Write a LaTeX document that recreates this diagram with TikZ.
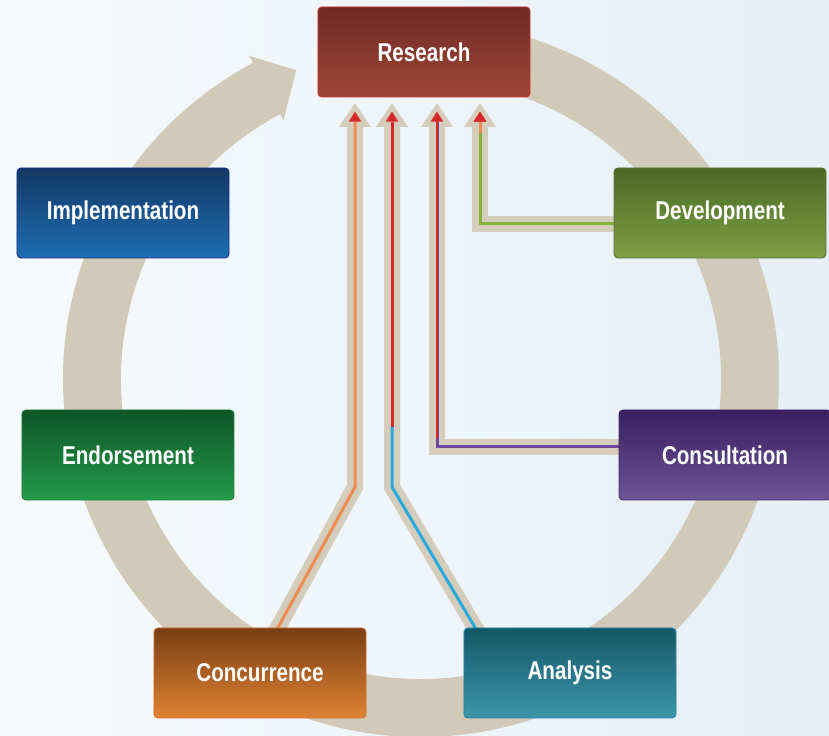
\documentclass[tikz,border=0pt]{standalone}
\usepackage{fontspec}
\setmainfont{Liberation Sans}[FakeStretch=0.8]
\usetikzlibrary{arrows.meta,backgrounds}

\definecolor{bgl}{RGB}{247,250,252}
\definecolor{bgr}{RGB}{230,239,247}
\definecolor{ringc}{RGB}{209,202,184}
\definecolor{bandc}{RGB}{212,205,188}
\definecolor{tipred}{RGB}{214,40,40}
\definecolor{lnorange}{RGB}{238,140,80}
\definecolor{lnblue}{RGB}{40,170,220}
\definecolor{lnpurple}{RGB}{110,70,160}
\definecolor{lngreen}{RGB}{130,180,60}

\tikzset{
  stage/.style={rectangle, rounded corners=0.12cm, minimum width=6.36cm,
    minimum height=2.7cm, text=white, line width=0.8pt,
    font=\fontsize{22}{26}\selectfont\bfseries},
  band/.style={draw=bandc, line width=0.48cm,
    -{Triangle[length=0.72cm, width=0.96cm, line width=0pt]}},
  core/.style={line width=0.09cm, shorten >=0.26cm,
    -{Triangle[length=0.3cm, width=0.38cm, line width=0pt, color=#1]}}
}

\begin{document}
\begin{tikzpicture}[x=0.03cm, y=0.03cm]
\useasboundingbox (0,0) rectangle (829,736);

\node (res) at (424,684) [stage, top color={rgb,255:red,110;green,42;blue,34}, bottom color={rgb,255:red,160;green,70;blue,55}, draw={rgb,255:red,200;green,50;blue,40}] {Research};
\node (imp) at (123,523) [stage, top color={rgb,255:red,18;green,56;blue,100}, bottom color={rgb,255:red,30;green,110;blue,180}, draw={rgb,255:red,30;green,50;blue,140}] {Implementation};
\node (dev) at (720,523) [stage, top color={rgb,255:red,74;green,105;blue,36}, bottom color={rgb,255:red,125;green,160;blue,70}, draw={rgb,255:red,90;green,120;blue,50}] {Development};
\node (end) at (128,281) [stage, top color={rgb,255:red,14;green,85;blue,40}, bottom color={rgb,255:red,35;green,155;blue,75}, draw={rgb,255:red,30;green,120;blue,60}] {Endorsement};
\node (con) at (725,281) [stage, top color={rgb,255:red,58;green,30;blue,95}, bottom color={rgb,255:red,110;green,85;blue,150}, draw={rgb,255:red,70;green,40;blue,110}] {Consultation};
\node (cnc) at (260,63) [stage, top color={rgb,255:red,120;green,62;blue,20}, bottom color={rgb,255:red,225;green,130;blue,50}, draw={rgb,255:red,210;green,110;blue,40}] {Concurrence};
\node (ana) at (570,63) [stage, top color={rgb,255:red,20;green,88;blue,102}, bottom color={rgb,255:red,60;green,150;blue,170}, draw={rgb,255:red,40;green,130;blue,170}] {Analysis};

% arrow ends under Research and bends
\coordinate (t1) at (355,633);
\coordinate (t2) at (392,633);
\coordinate (t3) at (437,633);
\coordinate (t4) at (480,633);
\coordinate (k1) at (355,249);
\coordinate (k2) at (392,249);

\begin{scope}[on background layer]
\shade [left color=bgl, right color=bgr] (0,0) rectangle (829,736);

% the big cycle
\fill [ringc, shift={(421,357)}] (100:358) arc [start angle=100, end angle=-242, radius=358]
  -- (-242:366) -- (-248:333) -- (-242:293) -- (-242:300)
  arc [start angle=-242, end angle=100, radius=300] -- cycle;

\draw [band] ([xshift=0.375cm, yshift=-0.3cm]cnc.north) -- (k1) -- (t1);
\draw [band] ([xshift=-2.67cm, yshift=-0.3cm]ana.north) -- (k2) -- (t2);
\draw [band] ([yshift=0.24cm]con.west) -| (t3);
\draw [band] ([yshift=-0.33cm]dev.west) -| (t4);

\draw [core=tipred, draw=lnorange] ([xshift=0.375cm, yshift=-0.3cm]cnc.north) -- (k1) -- (t1);
\draw [line width=0.09cm, draw=lnblue] ([xshift=-2.67cm, yshift=-0.3cm]ana.north) -- (k2) -- ([yshift=1.8cm]k2);
\draw [core=tipred, draw=tipred] ([yshift=1.8cm]k2) -- (t2);
\draw [core=tipred, draw=lnpurple] ([yshift=0.24cm]con.west) -| (t3);
\draw [line width=0.04cm, draw=tipred, shorten >=0.5cm] ([yshift=0.5cm]t3 |- con.west) -- (t3);
\draw [core=tipred, draw=lngreen] ([yshift=-0.33cm]dev.west) -| (t4);
\draw [core=tipred, draw=lnorange] ([yshift=2.4cm]t4 |- dev.west) -- (t4);
\end{scope}
\end{tikzpicture}
\end{document}
